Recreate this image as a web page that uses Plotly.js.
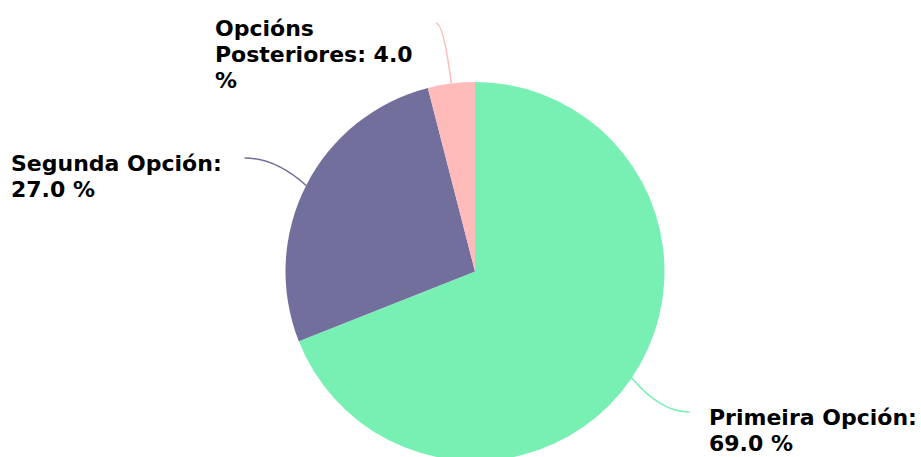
<!DOCTYPE html>
<html>
<head>
<meta charset="utf-8">
<script src="https://cdn.plot.ly/plotly-3.0.1.min.js"></script>
<style>
html,body{margin:0;padding:0;overflow:hidden;background:#fff;}
#chart{width:921px;height:466px;}
</style>
</head>
<body>
<div id="chart"></div>
<script>
const labels = ["Primeira Opción", "Segunda Opción", "Opcións Posteriores"];
const values = [69.0, 27.0, 4.0];
const colors = ["#78f0b4", "#736f9c", "#ffbaba"];

const W = 921, H = 466;
const CX = 475, CY = 271.5, R = 189.5;   // pie centre / radius in pixels
const KX = 1.32, KY = 1.32, DX = 0.04;    // label distance factors
const FONT = 22, LINE = 26;

function wrapLines(s, maxChars) {
  const words = s.split(" ");
  const lines = [];
  let cur = "";
  for (const w of words) {
    if (cur && (cur + " " + w).length > maxChars) { lines.push(cur); cur = w; }
    else cur = cur ? cur + " " + w : w;
  }
  if (cur) lines.push(cur);
  return lines;
}

const px = x => x / W;
const py = y => (H - y) / H;

const total = values.reduce((a, b) => a + b, 0);
const annotations = [];
const shapes = [];
let acc = 0;
values.forEach((v, i) => {
  const mid = (acc + v / 2) / total * 2 * Math.PI; // clockwise from top
  acc += v;
  const ux = Math.sin(mid), uy = Math.cos(mid);    // uy upward
  const sgn = ux >= 0 ? 1 : -1;
  const sx = CX + R * ux, sy = CY - R * uy;
  const ex = CX + R * (KX * ux + DX * sgn), ey = CY - R * KY * uy;
  const cx = (sx + ex) / 2, cy = ey;
  shapes.push({
    type: "path", xref: "paper", yref: "paper",
    path: `M ${px(sx)} ${py(sy)} Q ${px(cx)} ${py(cy)} ${px(ex)} ${py(ey)}`,
    line: {color: colors[i], width: 1.5}
  });
  const right = sgn > 0;
  const lines = wrapLines(labels[i] + ": " + v.toFixed(1) + " %", 16);
  lines.forEach((ln, k) => {
    annotations.push({
      xref: "paper", yref: "paper",
      x: px(ex + (right ? 18 : -22)), y: py(ey - 9 + k * LINE),
      xanchor: right ? "left" : "right", yanchor: "top",
      align: "left", showarrow: false, text: ln,
      font: {family: "DejaVu Sans", size: FONT, color: "#000", weight: "bold"},
      _block: i
    });
  });
});

const data = [{
  type: "pie",
  labels: labels,
  values: values,
  sort: false,
  direction: "clockwise",
  rotation: 0,
  textinfo: "none",
  hoverinfo: "none",
  marker: {colors: colors, line: {width: 0}},
  domain: {x: [px(CX - R), px(CX + R)], y: [py(CY + R), py(CY - R)]},
  showlegend: false
}];

const layout = {
  width: W, height: H,
  margin: {l: 0, r: 0, t: 0, b: 0},
  paper_bgcolor: "#fff",
  showlegend: false,
  shapes: shapes,
  annotations: annotations.map(a => { const c = Object.assign({}, a); delete c._block; return c; })
};

Plotly.newPlot("chart", data, layout, {displayModeBar: false, staticPlot: true}).then(gd => {
  // left-align multi-line blocks that hang to the left of their leader line
  const ann = gd.layout.annotations;
  const groups = {};
  annotations.forEach((a, j) => { (groups[a._block] = groups[a._block] || []).push(j); });
  const upd = {};
  Object.values(groups).forEach(idx => {
    if (ann[idx[0]].xanchor !== "right") return;
    const nodes = idx.map(j => gd.querySelector(`.annotation[data-index="${j}"] .annotation-text`));
    const widths = nodes.map(n => n ? n.getBBox().width : 0);
    const maxW = Math.max(...widths);
    const rightX = ann[idx[0]].x * W;
    idx.forEach(j => {
      upd[`annotations[${j}].xanchor`] = "left";
      upd[`annotations[${j}].x`] = (rightX - maxW - 3) / W;
    });
  });
  return Plotly.relayout(gd, upd);
});
</script>
</body>
</html>
